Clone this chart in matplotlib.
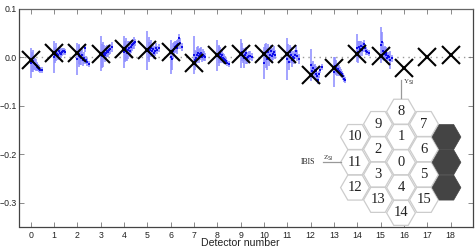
import matplotlib
matplotlib.use('Agg')
import matplotlib.pyplot as plt
from matplotlib.patches import RegularPolygon
import numpy as np

plt.rcParams['font.family'] = ['Liberation Sans', 'DejaVu Sans']

detectors = list(range(19))
cross_values = [-0.007, 0.009, 0.009, 0.007, 0.016, 0.015, 0.010, -0.013, 0.005, 0.007,
                0.006, 0.006, -0.037, -0.023, 0.007, 0.003, -0.023, -0.001, 0.005]

# position of each measurement inside a detector slot
slot_offsets = [0.0, 0.05, 0.09, 0.13, 0.17, 0.21, 0.25, 0.29, 0.33, 0.37, 0.42, 0.48]

# measured values per detector (17 and 18 have none)
values = {
    0: [-0.012, -0.010, -0.008, -0.012, -0.015, -0.016, -0.018, -0.020, -0.022, -0.024, -0.026, -0.027],
    1: [0.000, 0.004, 0.010, 0.007, 0.005, 0.012, 0.009, 0.007, 0.011, 0.012, 0.013, 0.010],
    2: [-0.004, 0.002, 0.006, 0.000, -0.002, 0.004, -0.006, -0.002, 0.018, -0.006, -0.010, -0.015],
    3: [0.007, 0.002, 0.005, 0.009, 0.004, 0.008, 0.011, 0.013, 0.010, 0.015, 0.016, 0.020],
    4: [0.010, 0.012, 0.016, 0.009, 0.014, 0.018, 0.013, 0.020, 0.024, 0.027, 0.029, 0.030],
    5: [0.013, 0.018, 0.010, 0.015, 0.019, 0.012, 0.016, 0.008, 0.013, 0.018, 0.015, 0.019],
    6: [0.000, -0.005, 0.012, 0.016, 0.020, 0.022, 0.018, 0.025, 0.027, 0.039, 0.028, 0.020],
    7: [0.004, -0.006, -0.002, 0.004, 0.008, 0.002, 0.006, 0.009, 0.000, 0.005, 0.002, 0.000],
    8: [0.003, 0.006, 0.002, 0.006, 0.000, 0.004, -0.002, -0.004, -0.006, -0.009, -0.012, -0.015],
    9: [0.007, 0.010, 0.003, -0.003, 0.005, 0.008, -0.002, -0.004, 0.000, 0.002, 0.003, 0.000],
    10: [-0.012, 0.008, 0.003, -0.004, 0.010, -0.002, 0.005, 0.012, 0.002, 0.006, 0.010, 0.005],
    11: [-0.004, 0.006, -0.010, 0.010, 0.004, -0.006, 0.000, -0.003, 0.005, 0.012, 0.003, -0.004],
    12: [-0.017, -0.028, -0.022, -0.030, -0.026, -0.035, -0.028, -0.040, -0.048, -0.036, -0.026, -0.020],
    13: [-0.031, -0.018, -0.022, -0.026, -0.024, -0.028, -0.030, -0.033, -0.036, -0.040, -0.045, -0.047],
    14: [0.018, 0.010, 0.020, 0.016, 0.022, 0.014, 0.020, 0.026, 0.018, 0.012, 0.010, 0.008],
    15: [0.025, 0.030, 0.012, 0.006, 0.010, 0.004, 0.008, -0.002, 0.002, -0.001, -0.006, -0.003],
}
errors = {
    0: [0.031, 0.020, 0.022, 0.014, 0.012, 0.012, 0.008, 0.008, 0.007, 0.007, 0.006, 0.006],
    1: [0.032, 0.016, 0.018, 0.010, 0.012, 0.009, 0.010, 0.009, 0.008, 0.007, 0.006, 0.006],
    2: [0.033, 0.022, 0.020, 0.016, 0.014, 0.012, 0.012, 0.012, 0.008, 0.009, 0.008, 0.006],
    3: [0.036, 0.024, 0.026, 0.016, 0.014, 0.014, 0.012, 0.012, 0.011, 0.010, 0.010, 0.010],
    4: [0.033, 0.022, 0.024, 0.018, 0.018, 0.014, 0.014, 0.012, 0.012, 0.010, 0.012, 0.008],
    5: [0.040, 0.024, 0.020, 0.016, 0.016, 0.012, 0.012, 0.012, 0.010, 0.010, 0.008, 0.008],
    6: [0.036, 0.022, 0.016, 0.014, 0.012, 0.012, 0.012, 0.010, 0.010, 0.008, 0.012, 0.008],
    7: [0.039, 0.020, 0.014, 0.016, 0.014, 0.014, 0.012, 0.012, 0.010, 0.012, 0.010, 0.008],
    8: [0.032, 0.018, 0.020, 0.014, 0.012, 0.012, 0.010, 0.010, 0.008, 0.006, 0.006, 0.006],
    9: [0.030, 0.018, 0.016, 0.020, 0.014, 0.012, 0.012, 0.010, 0.010, 0.010, 0.010, 0.008],
    10: [0.033, 0.018, 0.026, 0.022, 0.016, 0.016, 0.014, 0.012, 0.014, 0.012, 0.012, 0.010],
    11: [0.043, 0.020, 0.016, 0.014, 0.016, 0.014, 0.012, 0.012, 0.010, 0.012, 0.012, 0.010],
    12: [0.033, 0.016, 0.014, 0.014, 0.012, 0.012, 0.010, 0.010, 0.008, 0.008, 0.008, 0.006],
    13: [0.031, 0.018, 0.016, 0.014, 0.012, 0.012, 0.010, 0.008, 0.008, 0.008, 0.007, 0.006],
    14: [0.029, 0.022, 0.014, 0.016, 0.012, 0.012, 0.010, 0.009, 0.008, 0.008, 0.006, 0.006],
    15: [0.037, 0.022, 0.018, 0.014, 0.012, 0.012, 0.012, 0.010, 0.008, 0.008, 0.019, 0.008],
}

y_ticks = [0.1, 0.0, -0.1, -0.2, -0.3]
y_tick_labels = ['0.1', '0.0', '\u22120.1', '\u22120.2', '\u22120.3']

# layout of the detector plane, in picture pixels
hex_labels = ['8', '1', '0', '4', '14', '9', '2', '3', '13', '10', '11', '12', '7', '6', '5', '15']
hex_centers = [(401, 111.7), (401, 137), (401, 162.3), (401, 187.6), (401, 212.9),
               (378, 124), (378, 149.3), (378, 174.6), (378, 199.9),
               (355, 137), (355, 162.3), (355, 187.6),
               (424, 124), (424, 149.3), (424, 174.6), (424, 199.9)]
dead_centers = [(446.5, 137), (446.5, 162.3), (446.5, 187.6)]

W, H = 477, 250
fig = plt.figure(figsize=(W / 100, H / 100), dpi=100)
ax = fig.add_axes([19.5 / W, 1 - 227 / H, 454 / W, 218.5 / H])

ax.axhline(0, color='#999999', lw=1.0, ls=(0, (1, 3)), zorder=1)

for det, vals in values.items():
    x = det + np.array(slot_offsets)
    ax.vlines(x, np.array(vals) - np.array(errors[det]), np.array(vals) + np.array(errors[det]),
              color='#8a8aff', lw=1.1, zorder=2)
    ax.plot(x, vals, ls='none', marker='s', ms=1.5, color='#1010e8', mew=0, zorder=3)

ax.plot(detectors, cross_values, ls='none', marker='x', ms=13.5, mew=1.5, color='black', zorder=4)

ax.set_xlim(-0.48, 18.98)
ax.set_ylim(-0.3505, 0.1)
ax.set_xticks(detectors)
ax.set_yticks(y_ticks)
ax.set_yticklabels(y_tick_labels)
ax.tick_params(direction='in', top=True, right=True, length=3.5, width=0.6, color='#777777',
               labelsize=6.3, labelcolor='#222222')
ax.tick_params(axis='x', pad=3)
ax.tick_params(axis='y', pad=2)
for s in ax.spines.values():
    s.set_color('#444444')
    s.set_linewidth(0.9)
ax.spines['top'].set_color('#666666')

fig.text(240.5 / W, 1 - 243.5 / H, 'Detector number', ha='center', va='center', fontsize=7.6, color='#222222')

# overlay in pixel coordinates for the detector plane sketch
ov = fig.add_axes([0, 0, 1, 1], facecolor='none')
ov.set_xlim(0, W)
ov.set_ylim(H, 0)
ov.axis('off')

serif = ['Liberation Serif', 'DejaVu Serif']
for (cx, cy), name in zip(hex_centers, hex_labels):
    ov.add_patch(RegularPolygon((cx, cy), 6, radius=14.4, orientation=np.pi / 6,
                                facecolor='white', edgecolor='#cccccc', lw=0.9))
    ov.text(cx, cy, name, ha='center', va='center', fontsize=10.5, family=serif, color='#222222')
for cx, cy in dead_centers:
    ov.add_patch(RegularPolygon((cx, cy), 6, radius=14.4, orientation=np.pi / 6,
                                facecolor='#444444', edgecolor='#444444', lw=0.5))

ov.plot([401.3, 401.3], [80, 98], color='#999999', lw=0.9)
ov.plot([323, 341], [162, 162], color='#999999', lw=0.9)
ov.text(403, 82, r'Y$_{\mathrm{SI}}$', fontsize=5, family=serif, color='#333333', va='center')
ov.text(323, 158, r'Z$_{\mathrm{SI}}$', fontsize=5, family=serif, color='#333333', va='center')
ov.text(301, 162, 'IBIS', fontsize=5.5, family=serif, color='#222222', va='center')

fig.savefig('out.png', dpi=100)
